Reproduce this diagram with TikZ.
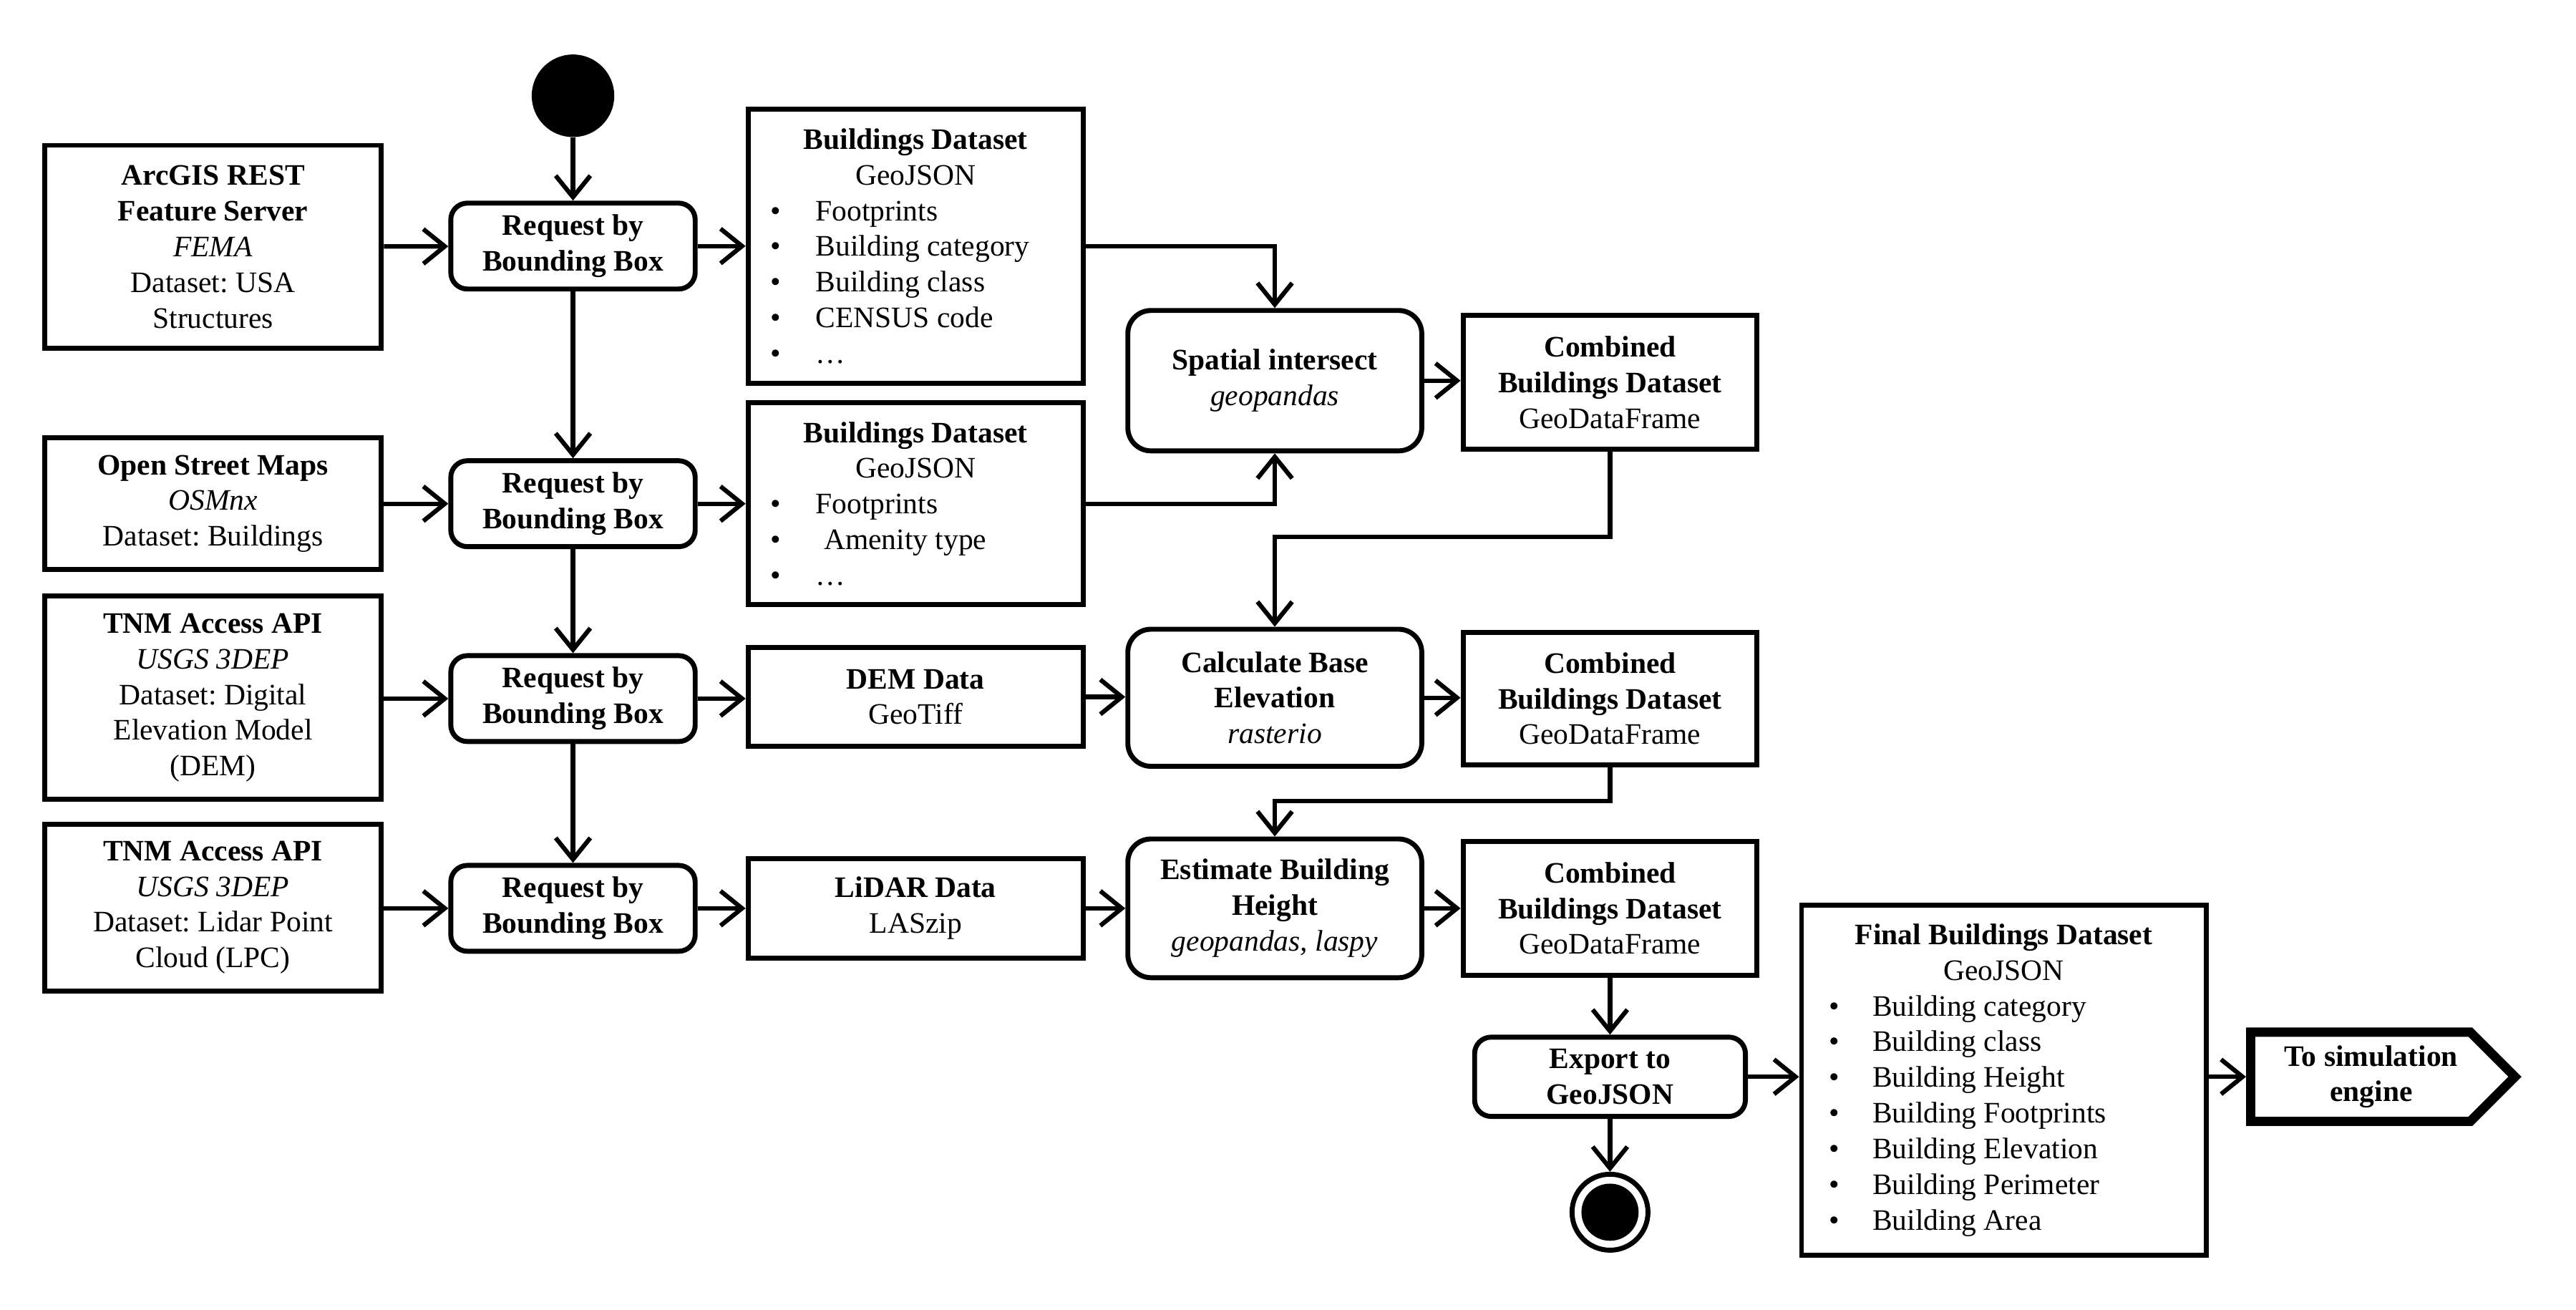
\documentclass[tikz,border=0pt]{standalone}
\usepackage{fontspec}
\setmainfont{Liberation Serif}
\usetikzlibrary{arrows.meta,calc}
\frenchspacing
\newcommand\fs{\fontsize{9pt}{10.8pt}\selectfont}
\newcommand\blA[1]{\hspace*{6.9pt}\makebox[13.6pt][l]{\textbullet}#1}
\newcommand\blB[1]{\hspace*{8.4pt}\makebox[13.1pt][l]{\textbullet}#1}
\tikzset{
  box/.style={draw, line width=1.5pt, rectangle, inner sep=0pt, align=center, font=\fs},
  proc/.style={box, rounded corners=7pt, minimum width=89pt},
  reqbox/.style={box, rounded corners=5pt, minimum width=74pt, minimum height=26pt, font=\fs\bfseries},
  srcbox/.style={box, minimum width=102pt},
  databox/.style={box, minimum width=101.5pt},
  combbox/.style={box, minimum width=89pt},
  conn/.style={line width=1.35pt, -{Straight Barb[length=6.5pt,width=10.5pt]}},
}
\begin{document}
\begin{tikzpicture}[x=0.5pt,y=-0.5pt]
\path[use as bounding box] (0,0) rectangle (1560,792.8);

% start
\node[circle, fill, inner sep=0pt, minimum size=25pt] (start) at (347,58) {};

% sources
\node[srcbox, minimum height=61.5pt] (src1) at (129,149.5) {\textbf{ArcGIS REST}\\\textbf{Feature Server}\\\textit{FEMA}\\Dataset: USA\\Structures};
\node[srcbox, minimum height=40pt] (src2) at (129,305) {\textbf{Open Street Maps}\\\textit{OSMnx}\\Dataset: Buildings};
\node[srcbox, minimum height=61.5pt] (src3) at (129,422.5) {\textbf{TNM Access API}\\\textit{USGS 3DEP}\\Dataset: Digital\\Elevation Model\\(DEM)};
\node[srcbox, minimum height=50.5pt] (src4) at (129,549.5) {\textbf{TNM Access API}\\\textit{USGS 3DEP}\\Dataset: Lidar Point\\Cloud (LPC)};

% requests
\node[reqbox] (req1) at (347,149) {Request by\\Bounding Box};
\node[reqbox] (req2) at (347,305) {Request by\\Bounding Box};
\node[reqbox] (req3) at (347,423) {Request by\\Bounding Box};
\node[reqbox] (req4) at (347,550) {Request by\\Bounding Box};

% datasets
\node[databox, minimum height=83pt] (bd1) at (554.5,149) {\begin{minipage}{101.5pt}\centering\textbf{Buildings Dataset}\\GeoJSON\par\raggedright
\blA{Footprints}\\\blA{Building category}\\\blA{Building class}\\\blA{CENSUS code}\\\blA{…}\end{minipage}};
\node[databox, minimum height=61pt] (bd2) at (554.5,305) {\begin{minipage}{101.5pt}\centering\textbf{Buildings Dataset}\\GeoJSON\par\raggedright
\blA{Footprints}\\\blA{\hspace{2.5pt}Amenity type}\\\blA{…}\end{minipage}};
\node[databox, minimum height=30pt] (dem) at (554.5,422) {\textbf{DEM Data}\\GeoTiff};
\node[databox, minimum height=30pt] (lidar) at (554.5,550) {\textbf{LiDAR Data}\\LASzip};

% processes
\node[proc, minimum height=42.5pt] (spatial) at (772,230.5) {\textbf{Spatial intersect}\\\textit{geopandas}};
\node[proc, minimum height=41.5pt] (calc) at (772,422.5) {\textbf{Calculate Base}\\\textbf{Elevation}\\\textit{rasterio}};
\node[proc, minimum height=42pt] (est) at (772,550) {\textbf{Estimate Building}\\\textbf{Height}\\\textit{geopandas, laspy}};

% combined
\node[combbox, minimum height=40.5pt] (comb1) at (975,231.5) {\textbf{Combined}\\\textbf{Buildings Dataset}\\GeoDataFrame};
\node[combbox, minimum height=40pt] (comb2) at (975,423) {\textbf{Combined}\\\textbf{Buildings Dataset}\\GeoDataFrame};
\node[combbox, minimum height=40.5pt] (comb3) at (975,550) {\textbf{Combined}\\\textbf{Buildings Dataset}\\GeoDataFrame};

% export and end
\node[box, rounded corners=5pt, minimum width=82pt, minimum height=24pt, font=\fs\bfseries] (export) at (975,652) {Export to\\GeoJSON};
\node[circle, draw, line width=1.5pt, inner sep=0pt, minimum size=23pt] (end) at (975,734) {};
\fill (end.center) circle (8.65pt);

% final
\node[box, minimum width=122.5pt, minimum height=106pt] (final) at (1213.5,654) {\begin{minipage}{122.5pt}\centering\textbf{Final Buildings Dataset}\\GeoJSON\par\raggedright
\blB{Building category}\\\blB{Building class}\\\blB{Building Height}\\\blB{Building Footprints}\\\blB{Building Elevation}\\\blB{Building Perimeter}\\\blB{Building Area}\end{minipage}};

% to simulation engine
\node[inner sep=0pt, outer sep=1.4pt, minimum width=73pt, minimum height=27pt, font=\fs\bfseries, align=center] (tosim) at (1436,652) {To simulation\\engine};
\draw[line width=2.8pt, line join=miter] ([shift={(1.4pt,-1.4pt)}]tosim.north west) -- ([shift={(67.9pt,-1.4pt)}]tosim.north west) -- ([xshift=81.4pt]tosim.west) -- ([shift={(67.9pt,1.4pt)}]tosim.south west) -- ([shift={(1.4pt,1.4pt)}]tosim.south west) -- cycle;

% connectors
\draw[conn] (start) -- (req1);
\draw[conn] (req1) -- (req2);
\draw[conn] (req2) -- (req3);
\draw[conn] (req3) -- (req4);
\draw[conn] (src1) -- (req1);
\draw[conn] (src2) -- (req2);
\draw[conn] (src3.east |- req3) -- (req3);
\draw[conn] (src4.east |- req4) -- (req4);
\draw[conn] (req1) -- (bd1.west |- req1);
\draw[conn] (req2) -- (bd2.west |- req2);
\draw[conn] (req3) -- (dem.west |- req3);
\draw[conn] (req4) -- (lidar.west |- req4);
\draw[conn] (bd1.east) -| (spatial.north);
\draw[conn] (bd2.east) -| (spatial.south);
\draw[conn] (spatial) -- (comb1.west |- spatial);
\coordinate (j1) at (772,325);
\coordinate (j2) at (772,485);
\draw[conn] (comb1.south) |- (j1) -- (calc.north);
\draw[conn] (dem.east) -- (calc.west |- dem.east);
\draw[conn] (calc) -- (comb2.west |- calc);
\draw[conn] (comb2.south) |- (j2) -- (est.north);
\draw[conn] (lidar) -- (est);
\draw[conn] (est) -- (comb3.west |- est);
\draw[conn] (comb3) -- (export);
\draw[conn] (export) -- (end);
\draw[conn] (export.east) -- (final.west |- export.east);
\draw[conn] (final.east |- tosim.west) -- (tosim.west);
\end{tikzpicture}
\end{document}
